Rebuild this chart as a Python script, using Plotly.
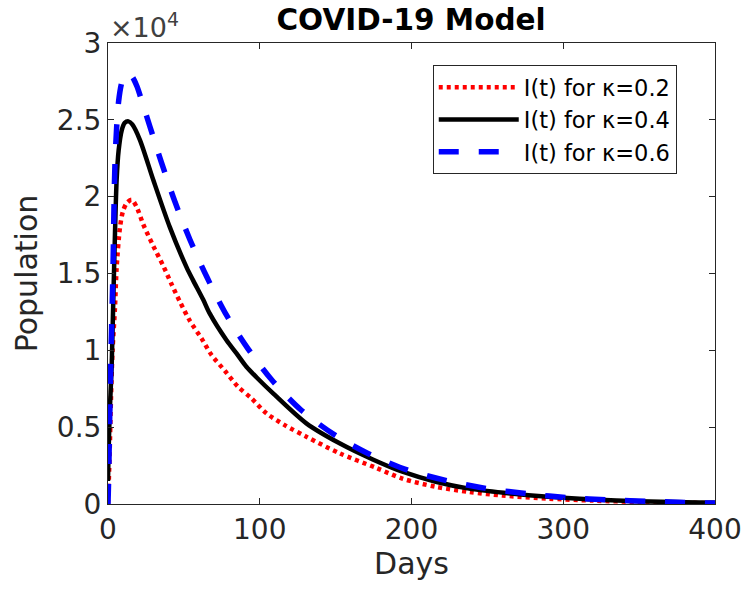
import plotly.graph_objects as go

# Days and infected population (units of 10^4)
t_k02 = [0, 1, 2, 3, 4.6, 5.7, 7.9, 10, 12.5, 15.6, 19, 23.2, 29.8, 36.4, 41.9, 47.4, 53.9,
         61.6, 68.2, 77, 85.7, 94.5, 104.4, 117, 130.7, 152.6, 176.8, 194, 216, 238, 260, 290,
         320, 350, 380, 400]
i_k02 = [0, 0.3, 0.7, 1.0, 1.28, 1.54, 1.80, 1.91, 1.96, 1.98, 1.93, 1.82, 1.68, 1.55, 1.43,
         1.316, 1.193, 1.078, 0.97, 0.867, 0.763, 0.688, 0.59, 0.51, 0.438, 0.33, 0.235, 0.165,
         0.112, 0.078, 0.055, 0.035, 0.022, 0.013, 0.008, 0.006]

t_k04 = [0, 0.3, 1, 2, 2.4, 3.5, 4.6, 5.7, 7, 9, 11, 13.5, 16, 21, 29.8, 40.8, 51.8, 56, 62.7,
         67, 78, 84.7, 91.2, 97.8, 108.8, 130.7, 152.6, 174.5, 194, 216, 238, 262, 290, 320,
         350, 380, 400]
i_k04 = [0.15, 0.3, 0.55, 0.8, 0.89, 1.33, 1.76, 2.11, 2.3, 2.43, 2.48, 2.49, 2.47, 2.37, 2.11,
         1.80, 1.54, 1.457, 1.33, 1.24, 1.067, 0.98, 0.893, 0.825, 0.72, 0.525, 0.395, 0.29,
         0.21, 0.145, 0.10, 0.072, 0.047, 0.03, 0.018, 0.011, 0.008]

t_k06 = [0, 0.5, 1, 2, 3, 3.5, 3.9, 4.6, 5.7, 7, 9, 11, 13, 16, 19, 23, 27.5, 35.3, 44, 54, 65,
         78, 92.3, 107.7, 127.4, 149.3, 171, 197.6, 224, 250, 278, 304, 330, 358, 385, 400]
i_k06 = [0, 0.2, 0.5, 1.0, 1.4, 1.65, 1.91, 2.22, 2.45, 2.62, 2.74, 2.79, 2.8, 2.78, 2.72, 2.6,
         2.46, 2.22, 1.97, 1.72, 1.48, 1.23, 1.01, 0.81, 0.61, 0.45, 0.33, 0.22, 0.15, 0.10,
         0.065, 0.04, 0.026, 0.017, 0.009, 0.006]

scale = 1e4
x_ticks = [0, 100, 200, 300, 400]
y_tick_labels = ["0", "0.5", "1", "1.5", "2", "2.5", "3"]
y_ticks = [float(s) * scale for s in y_tick_labels]

names = ["I(t) for κ=0.2", "I(t) for κ=0.4", "I(t) for κ=0.6"]

FONT = "DejaVu Sans, sans-serif"
AX = "#262626"

fig = go.Figure()
fig.add_trace(go.Scatter(x=t_k02, y=[v * scale for v in i_k02], mode="lines", name=names[0],
                         line=dict(color="#ff0000", width=4.5, dash="4px,4px", shape="spline", smoothing=0.8)))
fig.add_trace(go.Scatter(x=t_k04, y=[v * scale for v in i_k04], mode="lines", name=names[1],
                         line=dict(color="#000000", width=4.5, shape="spline", smoothing=0.8)))
fig.add_trace(go.Scatter(x=t_k06, y=[v * scale for v in i_k06], mode="lines", name=names[2],
                         line=dict(color="#0000ff", width=5.5, dash="20px,20px", shape="spline", smoothing=0.8)))

axis_common = dict(showline=True, linecolor=AX, linewidth=1, mirror="ticks", ticks="inside",
                   ticklen=6, tickcolor=AX, showgrid=False, zeroline=False, automargin=False,
                   tickfont=dict(family=FONT, size=28, color=AX))

fig.update_xaxes(range=[0, 400], tickvals=x_ticks,
                 title=dict(text="Days", font=dict(family=FONT, size=30, color=AX), standoff=8),
                 **axis_common)
fig.update_yaxes(range=[0, 3 * scale], tickvals=y_ticks, ticktext=y_tick_labels,
                 title=dict(text="Population", font=dict(family=FONT, size=30, color=AX), standoff=10),
                 **axis_common)

fig.update_layout(
    width=742, height=589,
    margin=dict(l=108, r=27, t=43, b=85),
    plot_bgcolor="white", paper_bgcolor="white",
    title=dict(text="<b>COVID-19 Model</b>", x=0.554, xanchor="center", y=0.966, yanchor="middle",
               font=dict(family=FONT, size=29.5, color="#000000")),
    legend=dict(x=0.535, y=0.952, xanchor="left", yanchor="top", bgcolor="white",
                bordercolor=AX, borderwidth=1, font=dict(family=FONT, size=22.5, color="#000000"),
                itemwidth=80),
    annotations=[dict(text="×10<sup>4</sup>", xref="paper", yref="paper", x=0, y=1,
                      xanchor="left", yanchor="bottom", showarrow=False, yshift=-2,
                      font=dict(family=FONT, size=27, color="#404040"))],
)

fig.write_html("out.html", config={"displayModeBar": False},
               post_script="document.body.style.margin='0px';")
